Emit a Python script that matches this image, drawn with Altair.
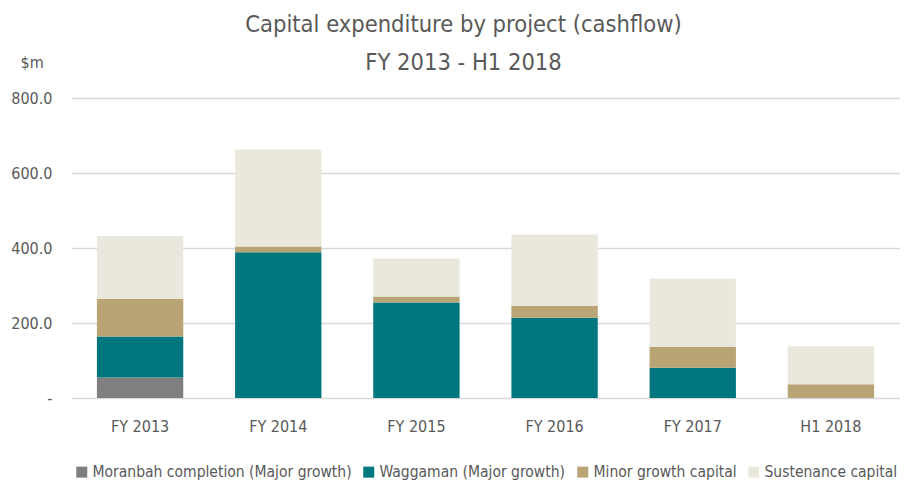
import altair as alt
import pandas as pd

periods = ["FY 2013", "FY 2014", "FY 2015", "FY 2016", "FY 2017", "H1 2018"]
series = ["Moranbah completion (Major growth)", "Waggaman (Major growth)",
          "Minor growth capital", "Sustenance capital"]
moranbah = [55, 0, 0, 0, 0, 0]
waggaman = [109, 389, 255, 214, 81, 0]
minor = [101, 15, 16, 32, 55, 37]
sustenance = [167, 259, 101, 190, 182, 101]
colors = ["#7f7f7f", "#00777e", "#b8a475", "#eae8dc"]
y_ticks = [0, 200, 400, 600, 800]

rows = []
for si, (name, vals) in enumerate(zip(series, [moranbah, waggaman, minor, sustenance])):
    for p, v in zip(periods, vals):
        rows.append({"period": p, "series": name, "value": v, "idx": si})
df = pd.DataFrame(rows)

FONT = "DejaVu Sans Condensed, Lato, sans-serif"
GREY = "#595959"

chart = alt.Chart(df).mark_bar().encode(
    x=alt.X("period:N", sort=periods,
            scale=alt.Scale(paddingInner=0.375, paddingOuter=0.1875),
            axis=alt.Axis(title=None, labelAngle=0, ticks=False, domain=False,
                          labelPadding=20, labelFontSize=16, labelColor=GREY,
                          labelFont=FONT)),
    y=alt.Y("value:Q", stack="zero",
            scale=alt.Scale(domain=[0, 800], nice=False),
            axis=alt.Axis(values=y_ticks, title="$m", titleAngle=0,
                          titleAlign="left", titleBaseline="middle",
                          titleX=-51, titleY=-36, titleFontSize=16,
                          titleFontWeight="normal", titleColor=GREY, titleFont=FONT,
                          labelExpr="datum.value == 0 ? '-' : format(datum.value, '.1f')",
                          ticks=False, domain=False, labelPadding=19,
                          labelFontSize=16, labelColor=GREY, labelFont=FONT,
                          gridColor="#d9d9d9", gridWidth=1.5)),
    color=alt.Color("series:N", sort=series,
                    scale=alt.Scale(domain=series, range=colors),
                    legend=alt.Legend(title=None, orient="none", direction="horizontal",
                                      legendX=3, legendY=366,
                                      symbolType="square", symbolSize=121,
                                      symbolStrokeWidth=0, labelFontSize=15.5,
                                      labelColor=GREY, labelFont=FONT,
                                      labelOffset=3, columnPadding=9,
                                      labelLimit=400)),
    order=alt.Order("idx:Q", sort="ascending"),
).properties(
    width=829,
    height=300,
    title=alt.Title(["Capital expenditure by project (cashflow)", "FY 2013 - H1 2018"],
                    fontSize=23.5, lineHeight=38, color=GREY, font=FONT,
                    fontWeight="normal", anchor="middle", dx=-22, dy=24),
    autosize=alt.AutoSizeParams(type="none"),
    padding={"left": 63, "top": 90, "right": 0, "bottom": 85},
).configure_view(stroke=None)

chart.save("out.html", embed_options={"renderer": "svg", "actions": False})
